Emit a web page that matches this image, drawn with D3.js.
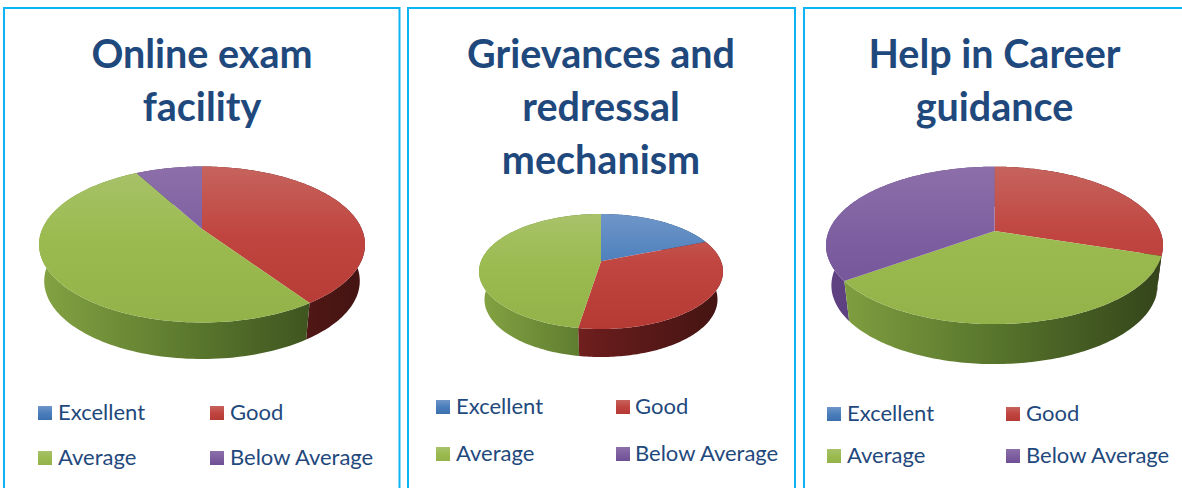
<!DOCTYPE html>
<html><head><meta charset="utf-8">
<script src="https://cdn.jsdelivr.net/npm/d3@7"></script>
<style>html,body{margin:0;padding:0;background:#fff;overflow:hidden}svg{display:block}text{font-family:Lato,sans-serif;fill:#1f497d}</style>
</head><body><svg id="c" width="1182" height="488"></svg>
<script>
const categories = ["Excellent", "Good", "Average", "Below Average"];
const titles = [["Online exam", "facility"], ["Grievances and", "redressal", "mechanism"], ["Help in Career", "guidance"]];
const onlineExam = [0, 40.5, 51.5, 8];
const grievances = [19, 33.5, 47.5, 0];
const careerHelp = [0, 30, 35, 35];
const seriesValues = [onlineExam, grievances, careerHelp];

const topColors = [["#6f96c9", "#4a7ebb", "#3c6fae"], ["#c6635d", "#c0443f", "#b63a34"], ["#a8c26a", "#9bbb50", "#93b249"], ["#8c6fa9", "#7d5fa1", "#6f4f94"]];
const sideColors = [["#3f6ea8", "#2a4c78", "#1a3050"], ["#9c2f2d", "#661c1b", "#431412"], ["#84a342", "#58752c", "#33441a"], ["#604282", "#4e3570", "#3a2850"]];
const layout = [
  {left: 4, right: 399.5, cx: 202, top: 166.5, rx: 163, ry: 78, k: .2, depth: 36.5, inset: .968, titleY: 68, legY: [406, 451], legX: [38, 210], textX: [58, 230]},
  {left: 408, right: 795, cx: 601, top: 214, rx: 122, ry: 57.5, k: .18, depth: 28, inset: .955, titleY: 68, legY: [400, 447], legX: [436, 616], textX: [456, 635]},
  {left: 804, right: null, cx: 994.5, top: 166.7, rx: 168.5, ry: 78.7, k: .183, depth: 40, inset: .968, titleY: 68, legY: [407, 449], legX: [827, 1006], textX: [847, 1026]}
];
const svg = d3.select("#c");
const defs = svg.append("defs");
const pie = d3.pie().sort(null).value(d => d);
const line = d3.line();
const border = "#0db4f3";

seriesValues.forEach((vals, p) => {
  const L = layout[p];
  const g = svg.append("g");
  // panel frame
  const frame = L.right === null
    ? [[L.left, 488], [L.left, 8], [1182, 8]]
    : [[L.left, 488], [L.left, 8], [L.right, 8], [L.right, 488]];
  g.append("path").attr("d", line(frame)).attr("fill", "none").attr("stroke", border).attr("stroke-width", 2);

  // title
  titles[p].forEach((t, i) => g.append("text").attr("x", L.cx).attr("y", L.titleY + i * 53)
    .attr("text-anchor", "middle").attr("font-weight", 700).attr("font-size", 39.5).text(t));

  // perspective projection of the pie disc
  const sx = d3.scaleLinear().domain([0, 1]).range([L.cx, L.cx + L.rx * Math.sqrt(1 - L.k * L.k)]);
  const apexY = L.top + L.ry - L.ry * L.k;
  const sy = d3.scaleLinear().domain([0, 1]).range([apexY, apexY + L.ry * (1 - L.k * L.k)]);
  const proj = a => {
    const x = Math.sin(a), y = -Math.cos(a), w = 1 - L.k * y;
    return [sx(x / w), sy(y / w)];
  };
  const arcPts = (a0, a1) => d3.range(0, 121).map(i => proj(a0 + (a1 - a0) * i / 120));

  // gradients
  categories.forEach((c, i) => {
    const tg = defs.append("linearGradient").attr("id", `t${p}_${i}`).attr("gradientUnits", "userSpaceOnUse")
      .attr("x1", 0).attr("x2", 0).attr("y1", L.top).attr("y2", L.top + 2 * L.ry);
    [0, .45, 1].forEach((o, j) => tg.append("stop").attr("offset", o).attr("stop-color", topColors[i][j]));
    const sg = defs.append("linearGradient").attr("id", `s${p}_${i}`).attr("gradientUnits", "userSpaceOnUse")
      .attr("x1", L.cx - L.rx).attr("x2", L.cx + L.rx).attr("y1", 0).attr("y2", 0);
    [0, .5, 1].forEach((o, j) => sg.append("stop").attr("offset", o).attr("stop-color", sideColors[i][j]));
  });

  const arcs = pie(vals).map((d, i) => ({...d, i})).filter(d => d.value > 0);
  const shrink = d3.scaleLinear().domain([0, 1]).range([L.cx, L.cx + L.inset]);
  // side walls, back to front
  arcs.slice().sort((a, b) => proj((a.startAngle + a.endAngle) / 2)[1] - proj((b.startAngle + b.endAngle) / 2)[1])
    .forEach(d => {
      const pts = arcPts(d.startAngle, d.endAngle);
      const low = pts.map(q => [shrink(q[0] - L.cx), q[1] + L.depth]).reverse();
      g.append("path").attr("d", line(pts.concat(low)) + "Z").attr("fill", `url(#s${p}_${d.i})`);
    });
  // top faces
  arcs.forEach(d => {
    const pts = [[sx(0), sy(0)]].concat(arcPts(d.startAngle, d.endAngle));
    g.append("path").attr("d", line(pts) + "Z").attr("fill", `url(#t${p}_${d.i})`);
  });

  // legend
  categories.forEach((c, i) => {
    const col = i % 2, row = i >> 1, y0 = L.legY[row];
    const lg = defs.append("linearGradient").attr("id", `l${p}_${i}`).attr("x1", 0).attr("x2", 0).attr("y1", 0).attr("y2", 1);
    [0, .5, 1].forEach((o, j) => lg.append("stop").attr("offset", o).attr("stop-color", topColors[i][j]));
    g.append("rect").attr("x", L.legX[col]).attr("y", y0).attr("width", 14).attr("height", 14).attr("fill", `url(#l${p}_${i})`);
    g.append("text").attr("x", L.textX[col]).attr("y", y0 + 14).attr("font-size", 22).text(c);
  });
});
</script></body></html>
